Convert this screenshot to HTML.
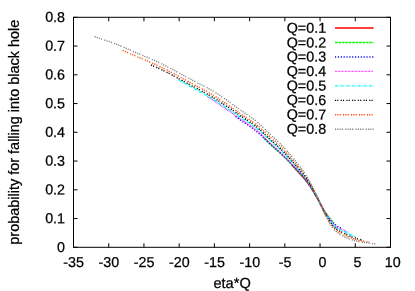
<!DOCTYPE html>
<html><head><meta charset="utf-8"><title>plot</title>
<style>
html,body{margin:0;padding:0;background:#fff;}
svg{display:block;will-change:transform;}
text{font-family:"Liberation Sans",sans-serif;font-size:14.3px;fill:#000;stroke:#000;stroke-width:0.25px;}
</style></head><body>
<svg width="415" height="291" viewBox="0 0 415 291">
<rect x="0" y="0" width="415" height="291" fill="#fff"/>
<polyline fill="none" stroke="#ff0000" stroke-width="1.6" points="291.9,165.1 292.9,166.2 293.9,167.2 294.9,168.3 295.9,169.4 296.9,170.5 297.9,171.5 298.9,172.6 299.9,173.7 300.9,174.8 301.9,175.9 302.9,177.0 303.9,178.2 304.9,179.3 305.9,180.5 306.9,181.8 307.9,183.1 308.9,184.5 309.9,185.9 310.9,187.4 311.9,189.0 312.9,190.6 313.9,192.3 314.9,194.0 315.9,195.7 316.9,197.5 317.9,199.2 318.9,201.1 319.9,202.9 320.9,204.8 321.9,206.7 322.9,208.7 323.9,210.6 324.9,212.1 325.9,213.4 326.9,214.7 327.1,215.0"/>
<polyline fill="none" stroke="#00ff00" stroke-width="1.4" stroke-dasharray="2.63,0.80" points="263.7,138.2 264.7,139.2 265.7,140.2 266.7,141.1 267.7,142.0 268.7,143.0 269.7,143.9 270.7,144.8 271.7,145.7 272.7,146.5 273.7,147.4 274.7,148.3 275.7,149.2 276.7,150.1 277.7,150.9 278.7,151.8 279.7,152.8 280.7,153.7 281.7,154.6 282.7,155.6 283.7,156.5 284.7,157.5 285.7,158.5 286.7,159.5 287.7,160.6 288.7,161.6 289.7,162.6 290.7,163.7 291.7,164.8 292.7,165.8 293.7,166.9 294.7,168.0 295.7,169.1 296.7,170.2 297.7,171.2 298.7,172.3 299.7,173.4 300.7,174.5 301.7,175.6 302.7,176.7 303.7,177.9 304.7,179.0 305.7,180.2 306.7,181.5 307.7,182.8 308.7,184.1 309.7,185.6 310.7,187.1 311.7,188.7 312.7,190.3 313.7,192.0 314.7,193.7 315.7,195.4 316.7,197.1 317.7,198.9 318.7,200.7 319.7,202.6 320.7,204.4 321.7,206.4 322.7,208.4 323.7,210.3 324.7,211.9 325.7,213.3 326.7,214.6 327.7,215.8 328.7,217.1 329.7,218.3 330.7,219.6 331.7,220.7 332.7,221.8 333.7,222.8 334.1,223.2"/>
<polyline fill="none" stroke="#0000ff" stroke-width="1.4" stroke-dasharray="1.14,1.72" points="235.5,116.4 236.5,117.2 237.5,117.9 238.5,118.6 239.5,119.4 240.5,120.1 241.5,120.8 242.5,121.5 243.5,122.2 244.5,122.8 245.5,123.5 246.5,124.2 247.5,124.8 248.5,125.5 249.5,126.2 250.5,126.9 251.5,127.6 252.5,128.3 253.5,129.1 254.5,129.8 255.5,130.6 256.5,131.4 257.5,132.2 258.5,133.1 259.5,134.0 260.5,134.9 261.5,135.8 262.5,136.8 263.5,137.7 264.5,138.7 265.5,139.6 266.5,140.6 267.5,141.5 268.5,142.4 269.5,143.3 270.5,144.2 271.5,145.1 272.5,146.0 273.5,146.9 274.5,147.7 275.5,148.6 276.5,149.5 277.5,150.4 278.5,151.3 279.5,152.2 280.5,153.1 281.5,154.1 282.5,155.0 283.5,156.0 284.5,157.0 285.5,158.0 286.5,159.0 287.5,160.0 288.5,161.1 289.5,162.1 290.5,163.2 291.5,164.2 292.5,165.3 293.5,166.3 294.5,167.4 295.5,168.5 296.5,169.5 297.5,170.6 298.5,171.6 299.5,172.6 300.5,173.7 301.5,174.8 302.5,176.0 303.5,177.1 304.5,178.4 305.5,179.6 306.5,180.9 307.5,182.3 308.5,183.6 309.5,185.1 310.5,186.6 311.5,188.2 312.5,189.9 313.5,191.6 314.5,193.3 315.5,195.0 316.5,196.8 317.5,198.6 318.5,200.4 319.5,202.2 320.5,204.1 321.5,206.0 322.5,208.1 323.5,210.1 324.5,211.8 325.5,213.2 326.5,214.6 327.5,216.0 328.5,217.3 329.5,218.5 330.5,219.9 331.5,221.1 332.5,222.1 333.5,223.2 334.5,224.1 335.5,224.9 336.5,225.7 337.5,226.5 338.5,227.1 339.5,227.6 340.5,227.9 341.2,228.1"/>
<polyline fill="none" stroke="#ff00ff" stroke-width="1.4" stroke-dasharray="0.66,0.77" points="207.3,96.5 208.3,97.1 209.3,97.7 210.3,98.3 211.3,99.0 212.3,99.6 213.3,100.3 214.3,101.0 215.3,101.7 216.3,102.4 217.3,103.1 218.3,103.8 219.3,104.4 220.3,105.1 221.3,105.7 222.3,106.4 223.3,107.1 224.3,107.7 225.3,108.4 226.3,109.1 227.3,109.8 228.3,110.4 229.3,111.1 230.3,111.8 231.3,112.6 232.3,113.3 233.3,114.0 234.3,114.7 235.3,115.4 236.3,116.2 237.3,116.9 238.3,117.6 239.3,118.3 240.3,119.0 241.3,119.7 242.3,120.4 243.3,121.1 244.3,121.7 245.3,122.4 246.3,123.0 247.3,123.7 248.3,124.4 249.3,125.1 250.3,125.7 251.3,126.4 252.3,127.1 253.3,127.9 254.3,128.6 255.3,129.4 256.3,130.2 257.3,131.0 258.3,131.9 259.3,132.8 260.3,133.7 261.3,134.6 262.3,135.6 263.3,136.6 264.3,137.5 265.3,138.5 266.3,139.5 267.3,140.5 268.3,141.4 269.3,142.3 270.3,143.3 271.3,144.2 272.3,145.1 273.3,146.0 274.3,146.9 275.3,147.8 276.3,148.7 277.3,149.7 278.3,150.6 279.3,151.5 280.3,152.4 281.3,153.4 282.3,154.4 283.3,155.4 284.3,156.4 285.3,157.4 286.3,158.4 287.3,159.4 288.3,160.5 289.3,161.6 290.3,162.6 291.3,163.7 292.3,164.8 293.3,165.9 294.3,166.9 295.3,168.0 296.3,169.1 297.3,170.1 298.3,171.1 299.3,172.2 300.3,173.2 301.3,174.3 302.3,175.5 303.3,176.6 304.3,177.8 305.3,179.1 306.3,180.4 307.3,181.7 308.3,183.1 309.3,184.5 310.3,186.0 311.3,187.6 312.3,189.2 313.3,190.9 314.3,192.7 315.3,194.4 316.3,196.2 317.3,198.0 318.3,199.9 319.3,201.8 320.3,203.7 321.3,205.7 322.3,207.8 323.3,209.8 324.3,211.7 325.3,213.3 326.3,214.7 327.3,216.2 328.3,217.6 329.3,218.9 330.3,220.3 331.3,221.6 332.3,222.7 333.3,223.8 334.3,224.8 335.3,225.7 336.3,226.5 337.3,227.2 338.3,227.9 339.3,228.4 340.3,228.8 341.3,229.2 342.3,229.5 343.3,229.9 344.3,230.3 345.3,230.9 346.3,231.5 347.3,232.1 348.2,232.5"/>
<polyline fill="none" stroke="#00ffff" stroke-width="1.4" stroke-dasharray="2.86,1.14,0.57,1.14" points="179.2,80.2 180.2,80.8 181.2,81.3 182.2,81.9 183.2,82.4 184.2,83.0 185.2,83.6 186.2,84.1 187.2,84.7 188.2,85.2 189.2,85.8 190.2,86.3 191.2,86.9 192.2,87.4 193.2,88.0 194.2,88.5 195.2,89.1 196.2,89.6 197.2,90.1 198.2,90.7 199.2,91.2 200.2,91.8 201.2,92.3 202.2,92.9 203.2,93.4 204.2,94.0 205.2,94.6 206.2,95.1 207.2,95.7 208.2,96.3 209.2,96.9 210.2,97.6 211.2,98.2 212.2,98.8 213.2,99.4 214.2,100.1 215.2,100.7 216.2,101.4 217.2,102.0 218.2,102.7 219.2,103.3 220.2,104.0 221.2,104.6 222.2,105.3 223.2,105.9 224.2,106.6 225.2,107.2 226.2,107.9 227.2,108.5 228.2,109.2 229.2,109.8 230.2,110.5 231.2,111.2 232.2,111.9 233.2,112.5 234.2,113.2 235.2,113.9 236.2,114.6 237.2,115.3 238.2,115.9 239.2,116.6 240.2,117.3 241.2,117.9 242.2,118.6 243.2,119.2 244.2,119.8 245.2,120.5 246.2,121.1 247.2,121.7 248.2,122.3 249.2,123.0 250.2,123.6 251.2,124.3 252.2,125.0 253.2,125.6 254.2,126.3 255.2,127.1 256.2,127.8 257.2,128.6 258.2,129.4 259.2,130.3 260.2,131.2 261.2,132.1 262.2,133.0 263.2,133.9 264.2,134.8 265.2,135.8 266.2,136.7 267.2,137.7 268.2,138.6 269.2,139.5 270.2,140.4 271.2,141.3 272.2,142.2 273.2,143.0 274.2,143.9 275.2,144.8 276.2,145.7 277.2,146.6 278.2,147.6 279.2,148.5 280.2,149.5 281.2,150.5 282.2,151.5 283.2,152.5 284.2,153.5 285.2,154.6 286.2,155.6 287.2,156.7 288.2,157.8 289.2,158.9 290.2,160.0 291.2,161.1 292.2,162.3 293.2,163.4 294.2,164.5 295.2,165.6 296.2,166.7 297.2,167.8 298.2,168.9 299.2,170.0 300.2,171.1 301.2,172.2 302.2,173.4 303.2,174.7 304.2,176.0 305.2,177.3 306.2,178.7 307.2,180.1 308.2,181.6 309.2,183.1 310.2,184.7 311.2,186.4 312.2,188.2 313.2,190.0 314.2,191.9 315.2,193.7 316.2,195.6 317.2,197.5 318.2,199.4 319.2,201.4 320.2,203.3 321.2,205.3 322.2,207.5 323.2,209.6 324.2,211.6 325.2,213.3 326.2,214.8 327.2,216.4 328.2,217.9 329.2,219.3 330.2,220.8 331.2,222.1 332.2,223.3 333.2,224.4 334.2,225.4 335.2,226.4 336.2,227.2 337.2,228.0 338.2,228.7 339.2,229.3 340.2,229.8 341.2,230.1 342.2,230.5 343.2,230.9 344.2,231.3 345.2,231.8 346.2,232.4 347.2,233.0 348.2,233.5 349.2,234.0 350.2,234.5 351.2,234.9 352.2,235.3 353.2,235.8 354.2,236.2 355.2,236.5 355.3,236.6"/>
<polyline fill="none" stroke="#000000" stroke-width="1.4" stroke-dasharray="1.14,1.14,1.14,2.29" points="151.0,65.0 152.0,65.4 153.0,65.8 154.0,66.3 155.0,66.7 156.0,67.1 157.0,67.6 158.0,68.0 159.0,68.5 160.0,69.0 161.0,69.4 162.0,69.9 163.0,70.4 164.0,70.9 165.0,71.4 166.0,71.9 167.0,72.4 168.0,72.9 169.0,73.4 170.0,74.0 171.0,74.5 172.0,75.0 173.0,75.5 174.0,76.1 175.0,76.6 176.0,77.1 177.0,77.7 178.0,78.2 179.0,78.8 180.0,79.3 181.0,79.8 182.0,80.4 183.0,80.9 184.0,81.5 185.0,82.0 186.0,82.6 187.0,83.1 188.0,83.6 189.0,84.2 190.0,84.7 191.0,85.2 192.0,85.8 193.0,86.3 194.0,86.8 195.0,87.4 196.0,87.9 197.0,88.4 198.0,89.0 199.0,89.5 200.0,90.1 201.0,90.6 202.0,91.2 203.0,91.7 204.0,92.3 205.0,92.8 206.0,93.4 207.0,94.0 208.0,94.5 209.0,95.1 210.0,95.7 211.0,96.3 212.0,96.9 213.0,97.5 214.0,98.1 215.0,98.7 216.0,99.3 217.0,99.9 218.0,100.5 219.0,101.2 220.0,101.8 221.0,102.4 222.0,103.1 223.0,103.7 224.0,104.4 225.0,105.1 226.0,105.7 227.0,106.4 228.0,107.0 229.0,107.7 230.0,108.4 231.0,109.1 232.0,109.8 233.0,110.5 234.0,111.2 235.0,111.9 236.0,112.6 237.0,113.3 238.0,114.0 239.0,114.7 240.0,115.4 241.0,116.1 242.0,116.8 243.0,117.4 244.0,118.1 245.0,118.7 246.0,119.4 247.0,120.0 248.0,120.7 249.0,121.4 250.0,122.0 251.0,122.7 252.0,123.4 253.0,124.1 254.0,124.8 255.0,125.6 256.0,126.3 257.0,127.1 258.0,128.0 259.0,128.8 260.0,129.7 261.0,130.7 262.0,131.6 263.0,132.6 264.0,133.5 265.0,134.5 266.0,135.4 267.0,136.4 268.0,137.3 269.0,138.3 270.0,139.2 271.0,140.1 272.0,141.0 273.0,141.9 274.0,142.8 275.0,143.7 276.0,144.6 277.0,145.5 278.0,146.4 279.0,147.4 280.0,148.3 281.0,149.3 282.0,150.3 283.0,151.3 284.0,152.4 285.0,153.4 286.0,154.5 287.0,155.5 288.0,156.6 289.0,157.7 290.0,158.8 291.0,159.9 292.0,161.0 293.0,162.2 294.0,163.3 295.0,164.4 296.0,165.6 297.0,166.7 298.0,167.8 299.0,168.9 300.0,170.1 301.0,171.3 302.0,172.5 303.0,173.8 304.0,175.1 305.0,176.4 306.0,177.8 307.0,179.3 308.0,180.8 309.0,182.3 310.0,184.0 311.0,185.7 312.0,187.5 313.0,189.3 314.0,191.2 315.0,193.1 316.0,195.0 317.0,196.9 318.0,198.9 319.0,200.9 320.0,202.9 321.0,205.0 322.0,207.2 323.0,209.4 324.0,211.5 325.0,213.4 326.0,215.1 327.0,216.8 328.0,218.5 329.0,220.1 330.0,221.6 331.0,223.1 332.0,224.4 333.0,225.6 334.0,226.7 335.0,227.7 336.0,228.5 337.0,229.4 338.0,230.1 339.0,230.8 340.0,231.3 341.0,231.8 342.0,232.2 343.0,232.7 344.0,233.1 345.0,233.6 346.0,234.1 347.0,234.7 348.0,235.2 349.0,235.7 350.0,236.1 351.0,236.5 352.0,236.9 353.0,237.2 354.0,237.6 355.0,237.9 356.0,238.3 357.0,238.6 358.0,238.9 359.0,239.2 360.0,239.4 361.0,239.7 362.0,239.9 362.3,240.0"/>
<polyline fill="none" stroke="#ff4d00" stroke-width="1.4" stroke-dasharray="1.14,1.14,1.14,1.14,1.14,2.29" points="122.8,50.5 123.8,50.9 124.8,51.3 125.8,51.8 126.8,52.2 127.8,52.6 128.8,53.1 129.8,53.5 130.8,53.9 131.8,54.4 132.8,54.8 133.8,55.2 134.8,55.7 135.8,56.1 136.8,56.5 137.8,57.0 138.8,57.4 139.8,57.8 140.8,58.2 141.8,58.7 142.8,59.1 143.8,59.5 144.8,59.9 145.8,60.4 146.8,60.8 147.8,61.2 148.8,61.6 149.8,62.0 150.8,62.5 151.8,62.9 152.8,63.3 153.8,63.8 154.8,64.2 155.8,64.7 156.8,65.1 157.8,65.6 158.8,66.0 159.8,66.5 160.8,67.0 161.8,67.5 162.8,68.0 163.8,68.5 164.8,69.0 165.8,69.5 166.8,70.0 167.8,70.5 168.8,71.0 169.8,71.6 170.8,72.1 171.8,72.6 172.8,73.2 173.8,73.7 174.8,74.2 175.8,74.8 176.8,75.3 177.8,75.9 178.8,76.4 179.8,77.0 180.8,77.5 181.8,78.1 182.8,78.6 183.8,79.2 184.8,79.7 185.8,80.2 186.8,80.8 187.8,81.3 188.8,81.9 189.8,82.4 190.8,82.9 191.8,83.5 192.8,84.0 193.8,84.5 194.8,85.0 195.8,85.6 196.8,86.1 197.8,86.6 198.8,87.2 199.8,87.7 200.8,88.2 201.8,88.8 202.8,89.3 203.8,89.9 204.8,90.4 205.8,91.0 206.8,91.5 207.8,92.1 208.8,92.6 209.8,93.2 210.8,93.8 211.8,94.4 212.8,95.0 213.8,95.6 214.8,96.2 215.8,96.8 216.8,97.4 217.8,98.0 218.8,98.7 219.8,99.3 220.8,100.0 221.8,100.6 222.8,101.3 223.8,102.0 224.8,102.6 225.8,103.3 226.8,104.0 227.8,104.7 228.8,105.4 229.8,106.1 230.8,106.8 231.8,107.5 232.8,108.2 233.8,108.9 234.8,109.7 235.8,110.4 236.8,111.1 237.8,111.8 238.8,112.6 239.8,113.3 240.8,114.0 241.8,114.6 242.8,115.3 243.8,116.0 244.8,116.6 245.8,117.3 246.8,117.9 247.8,118.6 248.8,119.2 249.8,119.9 250.8,120.6 251.8,121.2 252.8,121.9 253.8,122.7 254.8,123.4 255.8,124.1 256.8,124.9 257.8,125.7 258.8,126.6 259.8,127.5 260.8,128.4 261.8,129.3 262.8,130.2 263.8,131.2 264.8,132.1 265.8,133.1 266.8,134.0 267.8,135.0 268.8,135.9 269.8,136.8 270.8,137.7 271.8,138.6 272.8,139.5 273.8,140.4 274.8,141.3 275.8,142.3 276.8,143.2 277.8,144.1 278.8,145.1 279.8,146.1 280.8,147.1 281.8,148.1 282.8,149.1 283.8,150.2 284.8,151.2 285.8,152.3 286.8,153.4 287.8,154.5 288.8,155.7 289.8,156.8 290.8,157.9 291.8,159.1 292.8,160.3 293.8,161.4 294.8,162.6 295.8,163.8 296.8,165.0 297.8,166.1 298.8,167.3 299.8,168.5 300.8,169.7 301.8,171.0 302.8,172.3 303.8,173.7 304.8,175.1 305.8,176.5 306.8,178.0 307.8,179.6 308.8,181.2 309.8,182.9 310.8,184.7 311.8,186.5 312.8,188.4 313.8,190.4 314.8,192.3 315.8,194.3 316.8,196.3 317.8,198.3 318.8,200.4 319.8,202.5 320.8,204.6 321.8,206.8 322.8,209.1 323.8,211.3 324.8,213.4 325.8,215.3 326.8,217.1 327.8,218.9 328.8,220.7 329.8,222.3 330.8,223.8 331.8,225.2 332.8,226.5 333.8,227.6 334.8,228.7 335.8,229.6 336.8,230.4 337.8,231.2 338.8,231.9 339.8,232.6 340.8,233.1 341.8,233.6 342.8,234.1 343.8,234.6 344.8,235.0 345.8,235.6 346.8,236.1 347.8,236.5 348.8,237.0 349.8,237.4 350.8,237.8 351.8,238.1 352.8,238.5 353.8,238.8 354.8,239.1 355.8,239.4 356.8,239.7 357.8,239.9 358.8,240.2 359.8,240.4 360.8,240.6 361.8,240.8 362.8,241.0 363.8,241.2 364.8,241.4 365.8,241.6 366.8,241.7 367.8,241.9 368.8,242.0 369.4,242.1"/>
<polyline fill="none" stroke="#808080" stroke-width="1.4" stroke-dasharray="1.14,1.14,1.14,1.14,1.14,1.14,1.14,2.29" points="94.6,36.7 95.6,37.0 96.6,37.4 97.6,37.7 98.6,38.0 99.6,38.3 100.6,38.6 101.6,39.0 102.6,39.3 103.6,39.6 104.6,40.0 105.6,40.3 106.6,40.7 107.6,41.0 108.6,41.4 109.6,41.7 110.6,42.1 111.6,42.5 112.6,42.8 113.6,43.2 114.6,43.6 115.6,44.0 116.6,44.4 117.6,44.8 118.6,45.2 119.6,45.6 120.6,46.0 121.6,46.4 122.6,46.8 123.6,47.2 124.6,47.7 125.6,48.1 126.6,48.5 127.6,49.0 128.6,49.4 129.6,49.8 130.6,50.2 131.6,50.7 132.6,51.1 133.6,51.6 134.6,52.0 135.6,52.4 136.6,52.9 137.6,53.3 138.6,53.7 139.6,54.1 140.6,54.6 141.6,55.0 142.6,55.4 143.6,55.8 144.6,56.3 145.6,56.7 146.6,57.1 147.6,57.5 148.6,57.9 149.6,58.4 150.6,58.8 151.6,59.2 152.6,59.7 153.6,60.1 154.6,60.5 155.6,61.0 156.6,61.4 157.6,61.9 158.6,62.4 159.6,62.8 160.6,63.3 161.6,63.8 162.6,64.3 163.6,64.8 164.6,65.3 165.6,65.8 166.6,66.3 167.6,66.8 168.6,67.3 169.6,67.9 170.6,68.4 171.6,68.9 172.6,69.5 173.6,70.0 174.6,70.5 175.6,71.1 176.6,71.6 177.6,72.2 178.6,72.7 179.6,73.3 180.6,73.8 181.6,74.4 182.6,74.9 183.6,75.5 184.6,76.0 185.6,76.6 186.6,77.1 187.6,77.6 188.6,78.2 189.6,78.7 190.6,79.2 191.6,79.8 192.6,80.3 193.6,80.8 194.6,81.3 195.6,81.8 196.6,82.3 197.6,82.9 198.6,83.4 199.6,83.9 200.6,84.4 201.6,84.9 202.6,85.4 203.6,85.9 204.6,86.5 205.6,87.0 206.6,87.5 207.6,88.1 208.6,88.6 209.6,89.2 210.6,89.7 211.6,90.3 212.6,90.9 213.6,91.5 214.6,92.0 215.6,92.7 216.6,93.3 217.6,93.9 218.6,94.6 219.6,95.2 220.6,95.9 221.6,96.5 222.6,97.2 223.6,97.9 224.6,98.6 225.6,99.3 226.6,99.9 227.6,100.6 228.6,101.3 229.6,102.1 230.6,102.8 231.6,103.5 232.6,104.3 233.6,105.0 234.6,105.7 235.6,106.5 236.6,107.2 237.6,108.0 238.6,108.7 239.6,109.4 240.6,110.2 241.6,110.9 242.6,111.5 243.6,112.2 244.6,112.9 245.6,113.6 246.6,114.2 247.6,114.9 248.6,115.6 249.6,116.3 250.6,117.0 251.6,117.7 252.6,118.4 253.6,119.1 254.6,119.9 255.6,120.7 256.6,121.5 257.6,122.3 258.6,123.2 259.6,124.1 260.6,125.1 261.6,126.0 262.6,127.0 263.6,128.0 264.6,128.9 265.6,129.9 266.6,130.9 267.6,131.9 268.6,132.8 269.6,133.8 270.6,134.7 271.6,135.6 272.6,136.6 273.6,137.5 274.6,138.4 275.6,139.4 276.6,140.3 277.6,141.2 278.6,142.2 279.6,143.2 280.6,144.2 281.6,145.2 282.6,146.3 283.6,147.3 284.6,148.4 285.6,149.5 286.6,150.6 287.6,151.7 288.6,152.9 289.6,154.0 290.6,155.2 291.6,156.4 292.6,157.6 293.6,158.8 294.6,160.0 295.6,161.2 296.6,162.4 297.6,163.6 298.6,164.9 299.6,166.2 300.6,167.5 301.6,168.8 302.6,170.2 303.6,171.6 304.6,173.1 305.6,174.6 306.6,176.2 307.6,177.8 308.6,179.5 309.6,181.3 310.6,183.2 311.6,185.1 312.6,187.1 313.6,189.2 314.6,191.2 315.6,193.3 316.6,195.4 317.6,197.6 318.6,199.7 319.6,201.9 320.6,204.2 321.6,206.5 322.6,208.8 323.6,211.2 324.6,213.4 325.6,215.5 326.6,217.5 327.6,219.5 328.6,221.3 329.6,223.1 330.6,224.8 331.6,226.3 332.6,227.6 333.6,228.8 334.6,229.9 335.6,230.9 336.6,231.8 337.6,232.6 338.6,233.4 339.6,234.1 340.6,234.7 341.6,235.3 342.6,235.8 343.6,236.3 344.6,236.8 345.6,237.3 346.6,237.8 347.6,238.2 348.6,238.6 349.6,239.0 350.6,239.3 351.6,239.7 352.6,240.0 353.6,240.3 354.6,240.5 355.6,240.8 356.6,241.0 357.6,241.3 358.6,241.5 359.6,241.7 360.6,241.8 361.6,242.0 362.6,242.2 363.6,242.3 364.6,242.5 365.6,242.6 366.6,242.8 367.6,242.9 368.6,243.1 369.6,243.2 370.6,243.3 371.6,243.4 372.6,243.6 373.6,243.7 374.6,243.8 375.6,243.9 376.4,244.0"/>
<line x1="335" x2="373.6" y1="28.00" y2="28.00" stroke="#ff0000" stroke-width="1.6"/>
<text x="326.1" y="32.80" text-anchor="end" transform="rotate(0.05 326.1 32.80)">Q=0.1</text>
<line x1="335" x2="373.6" y1="42.47" y2="42.47" stroke="#00ff00" stroke-width="1.4" stroke-dasharray="2.63,0.80"/>
<text x="326.1" y="47.60" text-anchor="end" transform="rotate(0.05 326.1 47.60)">Q=0.2</text>
<line x1="335" x2="373.6" y1="56.94" y2="56.94" stroke="#0000ff" stroke-width="1.4" stroke-dasharray="1.14,1.72"/>
<text x="326.1" y="61.60" text-anchor="end" transform="rotate(0.05 326.1 61.60)">Q=0.3</text>
<line x1="335" x2="373.6" y1="71.41" y2="71.41" stroke="#ff00ff" stroke-width="1.4" stroke-dasharray="0.66,0.77"/>
<text x="326.1" y="76.00" text-anchor="end" transform="rotate(0.05 326.1 76.00)">Q=0.4</text>
<line x1="335" x2="373.6" y1="85.88" y2="85.88" stroke="#00ffff" stroke-width="1.4" stroke-dasharray="2.86,1.14,0.57,1.14"/>
<text x="326.1" y="90.50" text-anchor="end" transform="rotate(0.05 326.1 90.50)">Q=0.5</text>
<line x1="335" x2="373.6" y1="100.35" y2="100.35" stroke="#000000" stroke-width="1.4" stroke-dasharray="1.14,1.14,1.14,2.29"/>
<text x="326.1" y="104.90" text-anchor="end" transform="rotate(0.05 326.1 104.90)">Q=0.6</text>
<line x1="335" x2="373.6" y1="114.82" y2="114.82" stroke="#ff4d00" stroke-width="1.4" stroke-dasharray="1.14,1.14,1.14,1.14,1.14,2.29"/>
<text x="326.1" y="119.40" text-anchor="end" transform="rotate(0.05 326.1 119.40)">Q=0.7</text>
<line x1="335" x2="373.6" y1="129.29" y2="129.29" stroke="#808080" stroke-width="1.4" stroke-dasharray="1.14,1.14,1.14,1.14,1.14,1.14,1.14,2.29"/>
<text x="326.1" y="133.80" text-anchor="end" transform="rotate(0.05 326.1 133.80)">Q=0.8</text>
<rect x="73.5" y="17.3" width="317.0" height="230.0" fill="none" stroke="#000" stroke-width="1"/>
<text x="73.70" y="267" text-anchor="middle" transform="rotate(0.05 73.70 267)">-35</text>
<text x="108.92" y="267" text-anchor="middle" transform="rotate(0.05 108.92 267)">-30</text>
<text x="144.14" y="267" text-anchor="middle" transform="rotate(0.05 144.14 267)">-25</text>
<text x="179.37" y="267" text-anchor="middle" transform="rotate(0.05 179.37 267)">-20</text>
<text x="214.59" y="267" text-anchor="middle" transform="rotate(0.05 214.59 267)">-15</text>
<text x="249.81" y="267" text-anchor="middle" transform="rotate(0.05 249.81 267)">-10</text>
<text x="285.03" y="267" text-anchor="middle" transform="rotate(0.05 285.03 267)">-5</text>
<text x="322.36" y="267" text-anchor="middle" transform="rotate(0.05 322.36 267)">0</text>
<text x="357.58" y="267" text-anchor="middle" transform="rotate(0.05 357.58 267)">5</text>
<text x="392.80" y="267" text-anchor="middle" transform="rotate(0.05 392.80 267)">10</text>
<text x="65" y="251.90" text-anchor="end" transform="rotate(0.05 65 251.90)">0</text>
<text x="65" y="223.15" text-anchor="end" transform="rotate(0.05 65 223.15)">0.1</text>
<text x="65" y="194.40" text-anchor="end" transform="rotate(0.05 65 194.40)">0.2</text>
<text x="65" y="165.65" text-anchor="end" transform="rotate(0.05 65 165.65)">0.3</text>
<text x="65" y="136.90" text-anchor="end" transform="rotate(0.05 65 136.90)">0.4</text>
<text x="65" y="108.15" text-anchor="end" transform="rotate(0.05 65 108.15)">0.5</text>
<text x="65" y="79.40" text-anchor="end" transform="rotate(0.05 65 79.40)">0.6</text>
<text x="65" y="50.65" text-anchor="end" transform="rotate(0.05 65 50.65)">0.7</text>
<text x="65" y="21.90" text-anchor="end" transform="rotate(0.05 65 21.90)">0.8</text>
<path d="M73.50,247.3v-4M73.50,17.3v4M108.72,247.3v-4M108.72,17.3v4M143.94,247.3v-4M143.94,17.3v4M179.17,247.3v-4M179.17,17.3v4M214.39,247.3v-4M214.39,17.3v4M249.61,247.3v-4M249.61,17.3v4M284.83,247.3v-4M284.83,17.3v4M320.06,247.3v-4M320.06,17.3v4M355.28,247.3v-4M355.28,17.3v4M390.50,247.3v-4M390.50,17.3v4M73.5,247.30h4M390.5,247.30h-4M73.5,218.55h4M390.5,218.55h-4M73.5,189.80h4M390.5,189.80h-4M73.5,161.05h4M390.5,161.05h-4M73.5,132.30h4M390.5,132.30h-4M73.5,103.55h4M390.5,103.55h-4M73.5,74.80h4M390.5,74.80h-4M73.5,46.05h4M390.5,46.05h-4M73.5,17.30h4M390.5,17.30h-4" stroke="#000" stroke-width="1" fill="none"/>
<text x="232.1" y="288.1" text-anchor="middle" transform="rotate(0.05 232 288)" style="font-size:14.6px">eta*Q</text>
<text transform="translate(19,132.2) rotate(-90)" text-anchor="middle" style="font-size:14.46px">probability for falling into black hole</text>
</svg></body></html>
